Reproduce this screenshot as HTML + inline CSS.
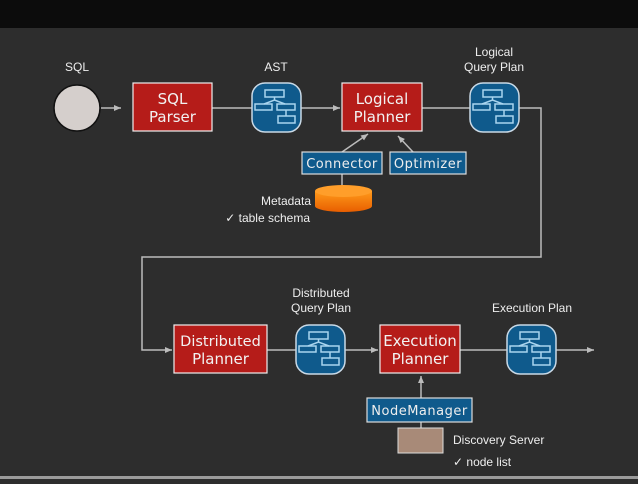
<!DOCTYPE html>
<html><head><style>
body{margin:0;width:638px;height:479px;overflow:hidden;background:#2d2d2d;}
svg text{font-family:"Liberation Sans",sans-serif;}
</style></head><body>
<svg width="638" height="479" xmlns="http://www.w3.org/2000/svg">
<defs>
<marker id="a" markerWidth="8" markerHeight="8" refX="7" refY="4" orient="auto" markerUnits="userSpaceOnUse"><path d="M0,1 L7,4 L0,7 Z" fill="#bbb"/></marker>
<g id="ic">
<rect x="0" y="0" width="49" height="49" rx="13" fill="#0f5a8c" stroke="#c9d9e6" stroke-width="1.5"/>
<g fill="none" stroke="#a9d4ee" stroke-width="1.5">
<rect x="13" y="7" width="19" height="7"/>
<path d="M22.5 14 V17 M12 21 L22.5 17 L33 21"/>
<rect x="3" y="21" width="17" height="6"/>
<rect x="25" y="21" width="18" height="6"/>
<path d="M34 27 V33"/>
<rect x="26" y="33" width="17" height="7"/>
</g>
</g>
<linearGradient id="cy" x1="0" y1="0" x2="0" y2="1"><stop offset="0" stop-color="#ff9a1a"/><stop offset="1" stop-color="#e85e00"/></linearGradient>
</defs>
<rect x="0" y="0" width="638" height="28" fill="#0c0c0c"/>
<rect x="0" y="476" width="638" height="3" fill="#9a9a9a"/>
<g fill="#eee" font-size="12" text-anchor="middle">
<text x="77" y="71">SQL</text>
<text x="276" y="71">AST</text>
<text x="494" y="56">Logical</text>
<text x="494" y="71">Query Plan</text>
<text x="321" y="297">Distributed</text>
<text x="321" y="312">Query Plan</text>
<text x="532" y="312">Execution Plan</text>
<text x="311" y="205" text-anchor="end">Metadata</text>
<text x="310" y="222" text-anchor="end">✓ table schema</text>
<text x="453" y="444" text-anchor="start">Discovery Server</text>
<text x="453" y="466" text-anchor="start">✓ node list</text>
</g>
<g stroke="#bbb" stroke-width="1.5" fill="none">
<line x1="101" y1="108" x2="121" y2="108" marker-end="url(#a)"/>
<line x1="212" y1="108" x2="252" y2="108"/>
<line x1="301" y1="108" x2="340" y2="108" marker-end="url(#a)"/>
<line x1="422" y1="108" x2="470" y2="108"/>
<polyline points="519,108 541,108 541,257 142,257 142,350 172,350" marker-end="url(#a)"/>
<line x1="267" y1="350" x2="297" y2="350"/>
<line x1="345" y1="350" x2="378" y2="350" marker-end="url(#a)"/>
<line x1="460" y1="350" x2="507" y2="350"/>
<line x1="556" y1="350" x2="594" y2="350" marker-end="url(#a)"/>
<line x1="342" y1="152" x2="368" y2="134" marker-end="url(#a)"/>
<line x1="413" y1="152" x2="398" y2="136" marker-end="url(#a)"/>
<line x1="342" y1="174" x2="342" y2="186"/>
<line x1="421" y1="398" x2="421" y2="376" marker-end="url(#a)"/>
<line x1="421" y1="422" x2="421" y2="428"/>
</g>
<circle cx="77" cy="108" r="23" fill="#d5cfcc" stroke="#111" stroke-width="1.5"/>
<g stroke="#eee" stroke-width="1.2" fill="#b51c19">
<rect x="133" y="83" width="79" height="48"/>
<rect x="342" y="83" width="80" height="48"/>
<rect x="174" y="325" width="93" height="48"/>
<rect x="380" y="325" width="80" height="48"/>
</g>
<g fill="#f2f2f2" font-size="15" text-anchor="middle">
<text x="172.5" y="104" style="font-family:'DejaVu Sans',sans-serif">SQL</text>
<text x="172.5" y="122" style="font-family:'DejaVu Sans',sans-serif">Parser</text>
<text x="382" y="104" style="font-family:'DejaVu Sans',sans-serif">Logical</text>
<text x="382" y="122" style="font-family:'DejaVu Sans',sans-serif">Planner</text>
<text x="220.5" y="346" style="font-family:'DejaVu Sans',sans-serif" font-size="14.5">Distributed</text>
<text x="220.5" y="364" style="font-family:'DejaVu Sans',sans-serif">Planner</text>
<text x="420" y="346" style="font-family:'DejaVu Sans',sans-serif">Execution</text>
<text x="420" y="364" style="font-family:'DejaVu Sans',sans-serif">Planner</text>
</g>
<use href="#ic" x="252" y="83"/>
<use href="#ic" x="470" y="83"/>
<use href="#ic" x="296" y="325"/>
<use href="#ic" x="507" y="325"/>
<g stroke="#ddd" stroke-width="1.2" fill="#0f5a8c">
<rect x="302" y="152" width="80" height="22"/>
<rect x="390" y="152" width="76" height="22"/>
<rect x="367" y="398" width="105" height="24"/>
</g>
<g fill="#eee" font-size="13" text-anchor="middle">
<text x="342" y="168" style="font-family:'DejaVu Sans',sans-serif;letter-spacing:0.5px">Connector</text>
<text x="428" y="168" style="font-family:'DejaVu Sans',sans-serif;letter-spacing:0.5px">Optimizer</text>
<text x="419.5" y="415" style="font-family:'DejaVu Sans',sans-serif;letter-spacing:0.5px">NodeManager</text>
</g>
<path d="M315,191 V206 A28.5,6 0 0 0 372,206 V191 Z" fill="url(#cy)"/>
<ellipse cx="343.5" cy="191" rx="28.5" ry="6" fill="#ff9e2a"/>
<rect x="398" y="428" width="45" height="25" fill="#a88a78" stroke="#ddd" stroke-width="1"/>
</svg>
</body></html>
